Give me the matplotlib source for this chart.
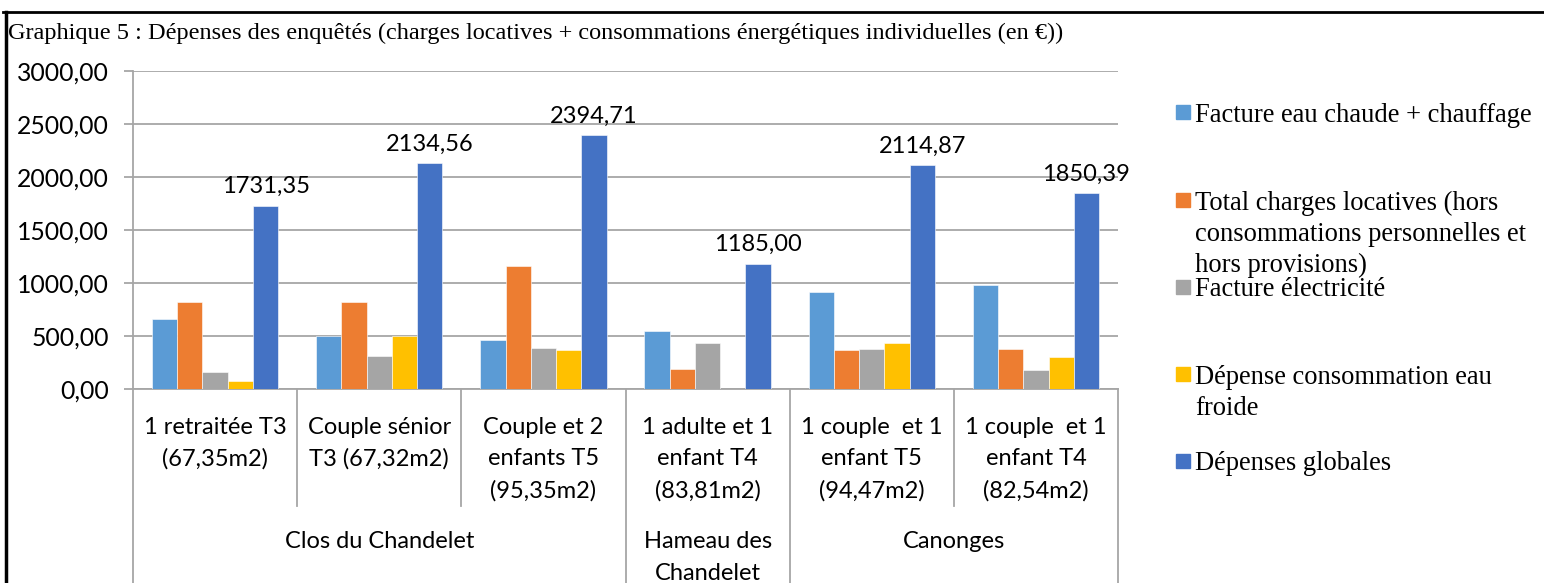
import numpy as np
import matplotlib
matplotlib.use('Agg')
import matplotlib.pyplot as plt
from matplotlib.patches import Rectangle
from matplotlib.lines import Line2D
import matplotlib.transforms as mtransforms

# donnees
categories = ['1 retraitée T3\n(67,35m2)', 'Couple sénior\nT3 (67,32m2)',
              'Couple et 2\nenfants T5\n(95,35m2)', '1 adulte et 1\nenfant T4\n(83,81m2)',
              '1 couple  et 1\nenfant T5\n(94,47m2)', '1 couple  et 1\nenfant T4\n(82,54m2)']
sites = ['Clos du Chandelet', 'Hameau des\nChandelet', 'Canonges']
sites_n = [3, 1, 2]

series = ['Facture eau chaude + chauffage',
          'Total charges locatives (hors\nconsommations personnelles et\nhors provisions)',
          'Facture électricité',
          'Dépense consommation eau\nfroide',
          'Dépenses globales']
eau_chaude = [663, 503, 465, 550, 918, 984]
charges = [820, 820, 1163, 191, 374, 380]
electricite = [166, 311, 390, 440, 377, 183]
eau_froide = [78, 500, 371, 0, 437, 302]
globales = [1731.35, 2134.56, 2394.71, 1185.00, 2114.87, 1850.39]
valeurs = [eau_chaude, charges, electricite, eau_froide, globales]
couleurs = ['#5B9BD5', '#ED7D31', '#A5A5A5', '#FFC000', '#4472C4']

W, H = 1544, 583
fig = plt.figure(figsize=(W / 100, H / 100), dpi=100)

def fx(px):
    return px / W

def fy(py):
    return 1 - py / H

ax_l, ax_r, ax_t, ax_b = 133, 1118, 71, 389.3
ax = fig.add_axes([fx(ax_l), fy(ax_b), fx(ax_r - ax_l), (ax_b - ax_t) / H])

sans = 'Lato'
serif = 'Liberation Serif'
gris = '#a6a6a6'

x = np.arange(len(categories))
w = 1 / 6.5
for i, (vals, c) in enumerate(zip(valeurs, couleurs)):
    ax.bar(x + (i - 2) * w, vals, w, color=c, edgecolor='white', linewidth=0.4, zorder=3)

# etiquettes des depenses globales
for xi, v in zip(x, globales):
    ax.annotate(f'{v:.2f}'.replace('.', ','), (xi + 2 * w, v), xytext=(0, 6),
                textcoords='offset points', ha='center', va='bottom',
                fontsize=17, family=sans, color='black')

ax.set_xlim(-0.5, len(categories) - 0.5)
ax.set_ylim(0, 3000)
ax.set_yticks(np.arange(0, 3001, 500))
ax.set_yticklabels([f'{t:.2f}'.replace('.', ',') for t in np.arange(0, 3001, 500)],
                   fontsize=17.8, family=sans)
ax.tick_params(axis='y', length=6.5, width=1.3, color=gris, pad=11)
ax.tick_params(axis='x', length=0, labelbottom=False)
ax.yaxis.grid(True, color=gris, linewidth=1.3, zorder=0)
for s in ['top', 'right']:
    ax.spines[s].set_visible(False)
for s in ['left', 'bottom']:
    ax.spines[s].set_color(gris)
    ax.spines[s].set_linewidth(1.3)

# axe des categories a deux niveaux
trans = mtransforms.blended_transform_factory(ax.transData, ax.transAxes)
hax = ax_b - ax_t

def ay(py):
    return -(py - ax_b) / hax

bornes = list(np.cumsum([0] + sites_n) - 0.5)
for b in np.arange(-0.5, len(categories), 1.0):
    bas = ay(H) if b in bornes else ay(506)
    ax.plot([b, b], [0, bas], transform=trans, color=gris, lw=1.3, clip_on=False)

for xi, lab in zip(x, categories):
    ax.text(xi, ay(425 - 8.5), lab, transform=trans, ha='center', va='top',
            fontsize=17, family=sans, linespacing=1.62)

for k, (site, n) in enumerate(zip(sites, sites_n)):
    centre = bornes[k] + n / 2
    ax.text(centre, ay(540 - 9), site, transform=trans, ha='center', va='top',
            fontsize=17, family=sans, linespacing=1.66)

# legende
leg_y = [112, 200, 287, 374, 461]
for lab, c, yy in zip(series, couleurs, leg_y):
    fig.patches.append(Rectangle((fx(1176), fy(yy + 7)), fx(14), 14 / H,
                                 transform=fig.transFigure, color=c))
    fig.text(fx(1195), fy(yy - 9.5), lab, ha='left', va='top', fontsize=19.1,
             family=serif, linespacing=1.33)

# titre et cadre
fig.text(fx(8), fy(33.5), 'Graphique 5 : Dépenses des enquêtés (charges locatives + '
         'consommations énergétiques individuelles (en €))',
         ha='left', va='center', fontsize=17.5, family=serif)
fig.add_artist(Line2D([fx(3), 1], [fy(12), fy(12)], color='black', lw=2))
fig.add_artist(Line2D([fx(6), fx(6)], [fy(12), 0], color='black', lw=2.5))

fig.savefig('out.png', dpi=100)
